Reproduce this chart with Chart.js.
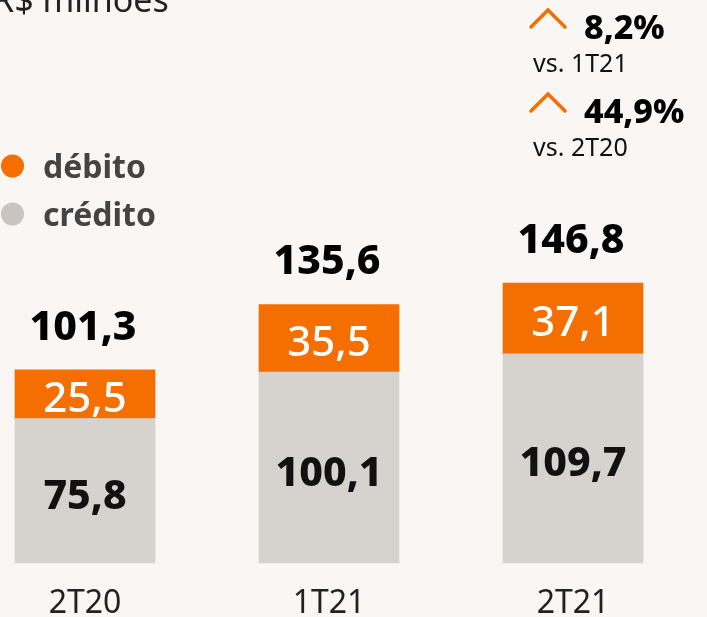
<html lang="pt">
<head>
    <meta charset="UTF-8">
    <title>Débito e crédito - R$ milhões</title>
    <script src="https://cdn.jsdelivr.net/npm/chart.js@4.4.0/dist/chart.umd.min.js"></script>
    <style>
        body { margin: 0; background: #f9f6f3; overflow: hidden; }
    </style>
</head>
<body>
    <canvas id="myChart" width="707" height="617"></canvas>
    <script>
        const quarters = ['2T20', '1T21', '2T21'];
        const credito = [75.8, 100.1, 109.7];
        const debito = [25.5, 35.5, 37.1];
        const totals = [101.3, 135.6, 146.8];
        const growth = ['8,2%', '44,9%'];
        const growthRefs = ['vs. 1T21', 'vs. 2T20'];
        const unitTitle = 'R$ milhões';

        const ORANGE = '#f56f00';
        const GREY = '#d6d2ce';
        const FONT = '"Noto Sans", "Open Sans", sans-serif';

        function fmt(v) {
            return v.toFixed(1).replace('.', ',');
        }

        const extras = {
            id: 'extras',
            beforeDraw: (chart) => {
                const ctx = chart.ctx;
                ctx.save();
                ctx.fillStyle = '#f9f6f3';
                ctx.fillRect(0, 0, chart.width, chart.height);
                ctx.restore();
            },
            afterDatasetsDraw: (chart) => {
                const ctx = chart.ctx;
                ctx.save();
                ctx.textAlign = 'center';
                ctx.textBaseline = 'alphabetic';

                // values inside the bars
                const credMeta = chart.getDatasetMeta(0);
                const debMeta = chart.getDatasetMeta(1);
                credMeta.data.forEach((bar, i) => {
                    const mid = (bar.y + bar.base) / 2;
                    ctx.fillStyle = '#111';
                    ctx.font = '800 41px ' + FONT;
                    ctx.fillText(fmt(credito[i]), bar.x, mid + 18);
                });
                debMeta.data.forEach((bar, i) => {
                    const mid = (bar.y + bar.base) / 2;
                    ctx.fillStyle = '#ffffff';
                    ctx.font = '500 42px ' + FONT;
                    ctx.fillText(fmt(debito[i]), bar.x, mid + 18);
                    // total above the stack
                    ctx.fillStyle = '#000';
                    ctx.font = '800 41px ' + FONT;
                    ctx.fillText(fmt(totals[i]), bar.x - 2, bar.y - 30);
                });

                // unit title, cut at the top like the source
                ctx.textAlign = 'left';
                ctx.fillStyle = '#222';
                ctx.font = '34px ' + FONT;
                ctx.fillText(unitTitle, -7, 12);

                // legend
                const legend = [
                    { label: chart.data.datasets[1].label, color: ORANGE, y: 166 },
                    { label: chart.data.datasets[0].label, color: '#c9c4c0', y: 214 }
                ];
                legend.forEach(item => {
                    ctx.fillStyle = item.color;
                    ctx.beginPath();
                    ctx.arc(12.5, item.y, 11.5, 0, Math.PI * 2);
                    ctx.fill();
                    ctx.fillStyle = '#444';
                    ctx.font = 'bold 32px ' + FONT;
                    ctx.fillText(item.label, 43, item.y + 12);
                });

                // growth notes
                const noteTop = [10, 94];
                growth.forEach((g, i) => {
                    const top = noteTop[i];
                    ctx.strokeStyle = ORANGE;
                    ctx.lineWidth = 3.5;
                    ctx.lineCap = 'round';
                    ctx.beginPath();
                    ctx.moveTo(531, top + 17);
                    ctx.lineTo(548, top);
                    ctx.lineTo(565, top + 17);
                    ctx.stroke();
                    ctx.fillStyle = '#000';
                    ctx.font = '800 34px ' + FONT;
                    ctx.fillText(g, 584, top + 29);
                    ctx.fillStyle = '#111';
                    ctx.font = '25px ' + FONT;
                    ctx.fillText(growthRefs[i], 533, top + 62);
                });
                ctx.restore();
            }
        };

        const ctx = document.getElementById('myChart').getContext('2d');
        const myChart = new Chart(ctx, {
            type: 'bar',
            data: {
                labels: quarters,
                datasets: [
                    {
                        label: 'crédito',
                        data: credito,
                        backgroundColor: GREY,
                        borderWidth: 0,
                        barThickness: 140,
                        clip: false
                    },
                    {
                        label: 'débito',
                        data: debito,
                        backgroundColor: ORANGE,
                        borderWidth: 0,
                        barThickness: 140,
                        clip: false
                    }
                ]
            },
            plugins: [extras],
            options: {
                responsive: false,
                animation: false,
                layout: {
                    padding: { left: 85, right: 134, top: 277, bottom: 0 }
                },
                plugins: {
                    legend: { display: false },
                    tooltip: { enabled: false }
                },
                scales: {
                    x: {
                        stacked: true,
                        offset: false,
                        grid: { display: false, drawTicks: false },
                        border: { display: false },
                        ticks: {
                            color: '#222',
                            padding: 22,
                            font: { family: FONT, size: 32 }
                        },
                        afterFit: (scale) => { scale.height = 54; }
                    },
                    y: {
                        stacked: true,
                        display: false,
                        min: 0,
                        max: 150
                    }
                }
            }
        });
    </script>
</body>
</html>
